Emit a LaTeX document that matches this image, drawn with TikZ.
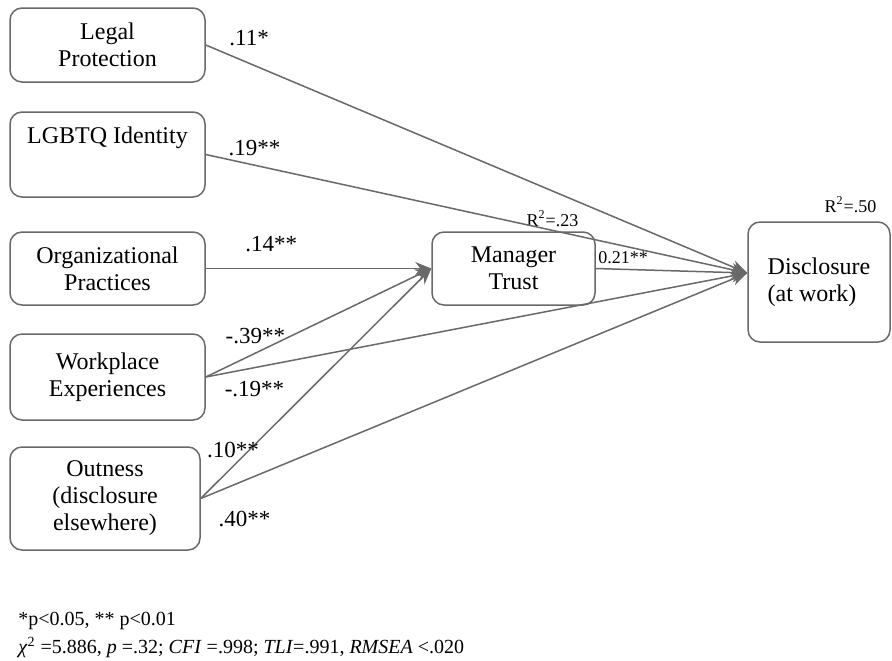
\documentclass[tikz,border=0pt]{standalone}
\usepackage{fontspec}
\setmainfont{Liberation Serif}
\usepackage{tikz}
\usetikzlibrary{positioning, arrows.meta}
\definecolor{pathGray}{RGB}{105,105,105}
\tikzstyle{varNode}=[draw=pathGray, line width=0.75pt, rounded corners=6pt, align=center, inner sep=0pt, font=\fontsize{12}{13.5}\selectfont]
\tikzstyle{pathEffect}=[-{Stealth[length=8pt,width=6.5pt]}, draw=pathGray, line width=0.75pt]
\tikzstyle{coefLabel}=[inner sep=1pt, font=\fontsize{11.5}{13}\selectfont]
\tikzstyle{smallLabel}=[inner sep=1pt, font=\fontsize{9}{10}\selectfont]

\begin{document}
\begin{tikzpicture}[x=0.5pt, y=-0.5pt]

    \useasboundingbox (0,0) rectangle (892,660);

    % predictors

    \node[varNode, minimum width=97.5pt, minimum height=37pt] (legal) at (107.5,45) {Legal\\Protection};
    \node[varNode, minimum width=97.5pt, minimum height=42.5pt] (lgbtq) at (107.5,154.5) {LGBTQ Identity\\[2pt]\strut};
    \node[varNode, minimum width=97.5pt, minimum height=36.5pt] (org) at (107.5,268.5) {Organizational\\Practices};
    \node[varNode, minimum width=97.5pt, minimum height=43pt] (work) at (107.5,377) {Workplace\\Experiences};
    \node[varNode, minimum width=95pt, minimum height=51.5pt] (out) at (105,498.5) {Outness\\(disclosure\\elsewhere)};

    % mediator and outcome

    \node[varNode, minimum width=81.5pt, minimum height=36.5pt] (trust) at (513.5,268.5) {Manager\\Trust};
    \node[varNode, align=left, minimum width=71pt, minimum height=60pt] (disc) at (819,282) {Disclosure\\(at work)};

    \coordinate (discIn) at ([yshift=4.5pt]disc.west);

    \node[smallLabel, anchor=south east] (r2trust) at ([xshift=-7.5pt, yshift=1pt]trust.north east) {R\textsuperscript{2}=.23};
    \node[smallLabel, anchor=south east] (r2disc) at ([xshift=-6pt, yshift=3pt]disc.north east) {R\textsuperscript{2}=.50};

    % paths

    \draw[pathEffect] (legal.east) -- node[coefLabel, pos=0.08, above=7.5pt] {.11*} (discIn);
    \draw[pathEffect] (lgbtq.east) -- node[coefLabel, pos=0.09, above=3.5pt] {.19**} (discIn);
    \draw[pathEffect] (org.east) -- node[coefLabel, pos=0.29, above=7pt] {.14**} (trust.west);
    \draw[pathEffect] (work.east) -- node[coefLabel, pos=0.22, above=3.5pt] {-.39**} (trust.west);
    \draw[pathEffect] (work.east) -- node[coefLabel, pos=0.09, below=5.5pt] {-.19**} (discIn);
    \draw[pathEffect] (out.east) -- node[coefLabel, pos=0.14, above=3pt] {.10**} (trust.west);
    \draw[pathEffect] (out.east) -- node[coefLabel, pos=0.08, below=14pt] {.40**} (discIn);
    \draw[pathEffect] (trust.east) -- node[smallLabel, pos=0.18, above=1.4pt] {0.21**} (discIn);

    % fit note

    \node[anchor=north west, align=left, inner sep=0pt, font=\fontsize{10}{14}\selectfont] (fitNote) at (18,612)
        {*p<0.05, ** p<0.01\\\textit{χ}\textsuperscript{2} =5.886, \textit{p} =.32; \textit{CFI} =.998; \textit{TLI}=.991, \textit{RMSEA} <.020};

\end{tikzpicture}
\end{document}
